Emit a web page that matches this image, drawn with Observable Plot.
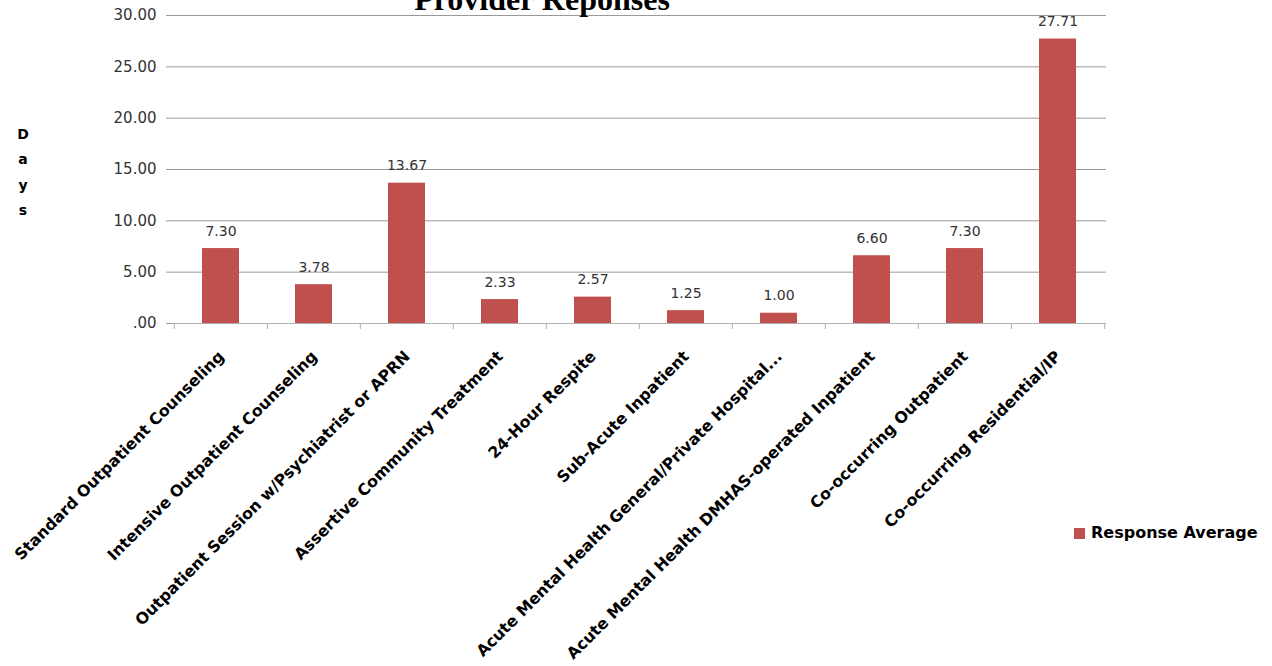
<!DOCTYPE html>
<html><head><meta charset="utf-8">
<script src="https://cdn.jsdelivr.net/npm/d3@7"></script>
<script src="https://cdn.jsdelivr.net/npm/@observablehq/plot@0.6"></script>
<style>
body{margin:0;background:#fff;}
#wrap{position:relative;width:1272px;height:666px;overflow:hidden;background:#fff;}
#chart{position:absolute;left:0;top:0;}
#title{position:absolute;left:0;width:1084px;top:-17px;text-align:center;font:bold 32px/32px "Liberation Serif";color:#000;white-space:nowrap;}
#ylab{position:absolute;left:11px;width:24px;top:122px;text-align:center;font:bold 14px/25.3px "DejaVu Sans";color:#000;}
#legend{position:absolute;left:1074px;top:524px;font:bold 16px/18px "DejaVu Sans";color:#000;display:flex;align-items:center;white-space:nowrap;}
#legend .sw{width:11px;height:11px;background:#C0504D;margin-right:6px;}
</style></head><body>
<div id="wrap">
  <div id="chart"></div>
  <div id="title">Provider Reponses</div>
  <div id="ylab">D<br>a<br>y<br>s</div>
  <div id="legend"><div class="sw"></div><span>Response Average</span></div>
</div>
<script>
const categories = [
  "Standard Outpatient Counseling",
  "Intensive Outpatient Counseling",
  "Outpatient Session w/Psychiatrist or APRN",
  "Assertive Community Treatment",
  "24-Hour Respite",
  "Sub-Acute Inpatient",
  "Acute Mental Health General/Private Hospital...",
  "Acute Mental Health DMHAS-operated Inpatient",
  "Co-occurring Outpatient",
  "Co-occurring Residential/IP"
];
const values = [7.30, 3.78, 13.67, 2.33, 2.57, 1.25, 1.00, 6.60, 7.30, 27.71];
const valueLabels = ["7.30", "3.78", "13.67", "2.33", "2.57", "1.25", "1.00", "6.60", "7.30", "27.71"];
const yTicks = [0, 5, 10, 15, 20, 25, 30];
const yTickLabels = [".00", "5.00", "10.00", "15.00", "20.00", "25.00", "30.00"];

const data = categories.map((c, i) => ({cat: c, value: values[i], label: valueLabels[i]}));
const lastCat = categories[categories.length - 1];
const step = (1106 - 172) / categories.length;

const chart = Plot.plot({
  width: 1272,
  height: 666,
  marginLeft: 172,
  marginRight: 166,
  marginTop: 15,
  marginBottom: 343,
  style: {fontFamily: "DejaVu Sans", fontSize: "14px", background: "transparent", color: "#000"},
  x: {domain: categories, paddingInner: 0.6, paddingOuter: 0.3, label: null},
  y: {domain: [0, 30], label: null},
  marks: [
    Plot.ruleY(yTicks, {stroke: "#9a9a9a", strokeWidth: 1}),
    Plot.ruleX([0], {frameAnchor: "left", stroke: "#b0b0b0"}),
    Plot.ruleX(categories, {x: d => d, dx: -step / 2, y1: 0, y2: 0, insetBottom: -6, stroke: "#b0b0b0"}),
    Plot.ruleX([lastCat], {x: d => d, dx: step / 2, y1: 0, y2: 0, insetBottom: -6, stroke: "#b0b0b0"}),
    Plot.ruleY([0], {stroke: "#b0b0b0"}),
    Plot.barY(data, {x: "cat", y: "value", fill: "#C0504D"}),
    Plot.text(data, {x: "cat", y: "value", text: "label", dy: -17.5, fontSize: 14, fill: "#333"}),
    Plot.axisY({ticks: yTicks, tickFormat: (d, i) => yTickLabels[yTicks.indexOf(d)], tickSize: 6, tickPadding: 10, fontSize: 15, fill: "#333", stroke: "#9a9a9a", label: null}),
    Plot.axisX({tickSize: 0, tickRotate: -45, textAnchor: "end", lineAnchor: "top", tickPadding: 26, dx: -4, fontSize: 15.8, fontWeight: "bold", fill: "#000", label: null})
  ]
});
document.getElementById("chart").appendChild(chart);
</script>
</body></html>
